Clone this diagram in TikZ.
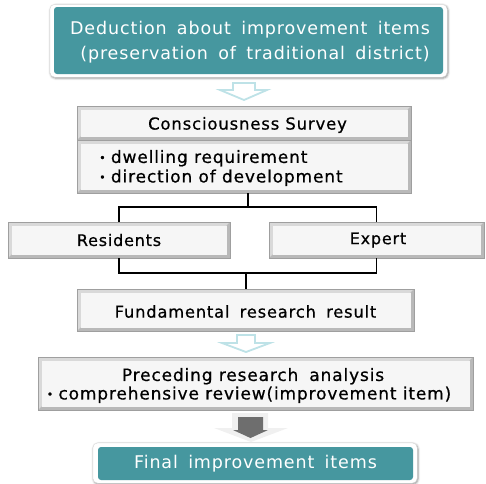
\documentclass[tikz,border=0pt]{standalone}
\usepackage{fontspec}
\setmainfont[LetterSpace=5,FakeBold=0.6]{DejaVu Sans}
\newfontfamily\topfont[LetterSpace=5,WordSpace=1.6]{DejaVu Sans}
\newfontfamily\widefont[LetterSpace=5,WordSpace=1.7,FakeBold=0.6]{DejaVu Sans}
\usetikzlibrary{shadows.blur,backgrounds,calc}
\definecolor{tealc}{HTML}{46979F}
\definecolor{arrc}{HTML}{BEE2E7}
\definecolor{darkg}{HTML}{6E6E6E}
\begin{document}
\begin{tikzpicture}[x=1pt,y=-1pt,
  tealbox/.style={rectangle, rounded corners=3pt, fill=tealc, draw=none, inner sep=0pt},
  frame/.style={draw=gray!30, line width=0.4pt, fill=white, rounded corners=5pt,
    blur shadow={shadow xshift=0.8pt, shadow yshift=-1pt, shadow blur radius=2.2pt, shadow opacity=45}},
  wtext/.style={text=white, align=center, inner sep=0pt},
  graybox/.style={rectangle, draw=gray!75, line width=0.8pt, inner sep=0pt, text=black,
    path picture={
      \fill[gray!30] (path picture bounding box.south west) rectangle (path picture bounding box.north east);
      \fill[gray!55] (path picture bounding box.south west) -- (path picture bounding box.south east)
        -- (path picture bounding box.north east) -- ($(path picture bounding box.north east)+(-3.5pt,-3.5pt)$)
        -- ($(path picture bounding box.south east)+(-3.5pt,3.5pt)$) -- ($(path picture bounding box.south west)+(3.5pt,3.5pt)$) -- cycle;
      \fill[gray!7] ($(path picture bounding box.south west)+(3.5pt,3.5pt)$) rectangle ($(path picture bounding box.north east)+(-3.5pt,-3.5pt)$);
    }},
  conn/.style={draw=black, line width=1.6pt},
  hollow/.style={draw=arrc, line width=1.8pt, fill=white, line join=miter}
]
\useasboundingbox (0,0) rectangle (486,483);

% top box
\node[tealbox, minimum width=389pt, minimum height=67pt] (top) at (248.5,40.5) {};
\begin{scope}[on background layer]
  \path[frame] ($(top.north west)+(-4pt,2.5pt)$) rectangle ($(top.south east)+(4pt,-3pt)$);
\end{scope}
\node[wtext, font=\topfont\fontsize{17.5}{25}\selectfont] (toptext) at (250,42.5)
  {Deduction about improvement items\\ \hspace{10pt}(preservation of traditional district)};

% hollow arrow 1
\draw[hollow] (233,83) -- (255,83) -- (255,90) -- (267,90) -- (244,100) -- (220,90) -- (233,90) -- cycle;

% survey
\node[graybox, minimum width=334pt, minimum height=34pt] (survey) at (244,123) {};
\node[inner sep=0pt, font=\fontsize{16.5}{20}\selectfont] (surveytext) at (247.5,125) {Consciousness Survey};
\node[graybox, minimum width=334pt, minimum height=53pt] (body) at (244,166.5) {};
\node[anchor=west, align=left, inner sep=0pt, font=\fontsize{17}{19.5}\selectfont]
  (bodytext) at (99,168) {{\fontsize{11}{12}\selectfont\raisebox{0.12em}{•}}\hspace{-1pt} dwelling requirement\\
  {\fontsize{11}{12}\selectfont\raisebox{0.12em}{•}}\hspace{-1pt} direction of development};

% residents / expert
\node[graybox, minimum width=222pt, minimum height=36pt,
  font=\fontsize{16}{20}\selectfont] (res) at (119,240) {Residents};
\node[graybox, minimum width=215pt, minimum height=36pt,
  font=\fontsize{16}{20}\selectfont] (exp) at (376.5,240) {\hspace{3pt}Expert};

% fundamental
\node[graybox, minimum width=337pt, minimum height=42pt] (fund) at (245.5,310) {};
\node[inner sep=0pt, font=\widefont\fontsize{16.3}{20}\selectfont] (fundtext) at (245.5,311.5) {Fundamental research result};

% connectors
\coordinate (jt) at (248,207);
\coordinate (jb) at (246,273);
\draw[conn] (body.south -| jt) -- (jt);
\draw[conn] (res.north) |- (jt) -| (exp.north);
\draw[conn] (res.south) |- (jb) -| (exp.south);
\draw[conn] (jb) -- (fund.north -| jb);

% hollow arrow 2
\draw[hollow] (237,335) -- (255,335) -- (255,343) -- (270,343) -- (246,352) -- (222,343) -- (237,343) -- cycle;

% preceding
\node[graybox, minimum width=435pt, minimum height=53pt] (prec) at (255.5,383.5) {};
\node[inner sep=0pt, align=center, font=\fontsize{17}{20}\selectfont] (prectext) at (249,385.5)
  {\hspace{8pt}Preceding research\hspace{11pt}analysis\\[-1.5pt]
   {\fontsize{11}{12}\selectfont\raisebox{0.12em}{•}}\hspace{-1pt} comprehensive review(improvement item)};

% gray arrow with light halo
\fill[gray!12] (232,413) -- (268,413) -- (268,428) -- (288,428) -- (251,442) -- (214,428) -- (232,428) -- cycle;
\fill[darkg] (238,417) -- (263,417) -- (263,430) -- (268,430) -- (250.5,438) -- (233,430) -- (238,430) -- cycle;

% final
\node[tealbox, minimum width=315pt, minimum height=33pt] (final) at (255.5,463.5) {};
\begin{scope}[on background layer]
  \path[frame] ($(final.north west)+(-5pt,4pt)$) rectangle ($(final.south east)+(4pt,-3pt)$);
\end{scope}
\node[wtext, font=\topfont\fontsize{17.5}{22}\selectfont] (finaltext) at (255.5,463.5) {Final improvement items};
\end{tikzpicture}
\end{document}
